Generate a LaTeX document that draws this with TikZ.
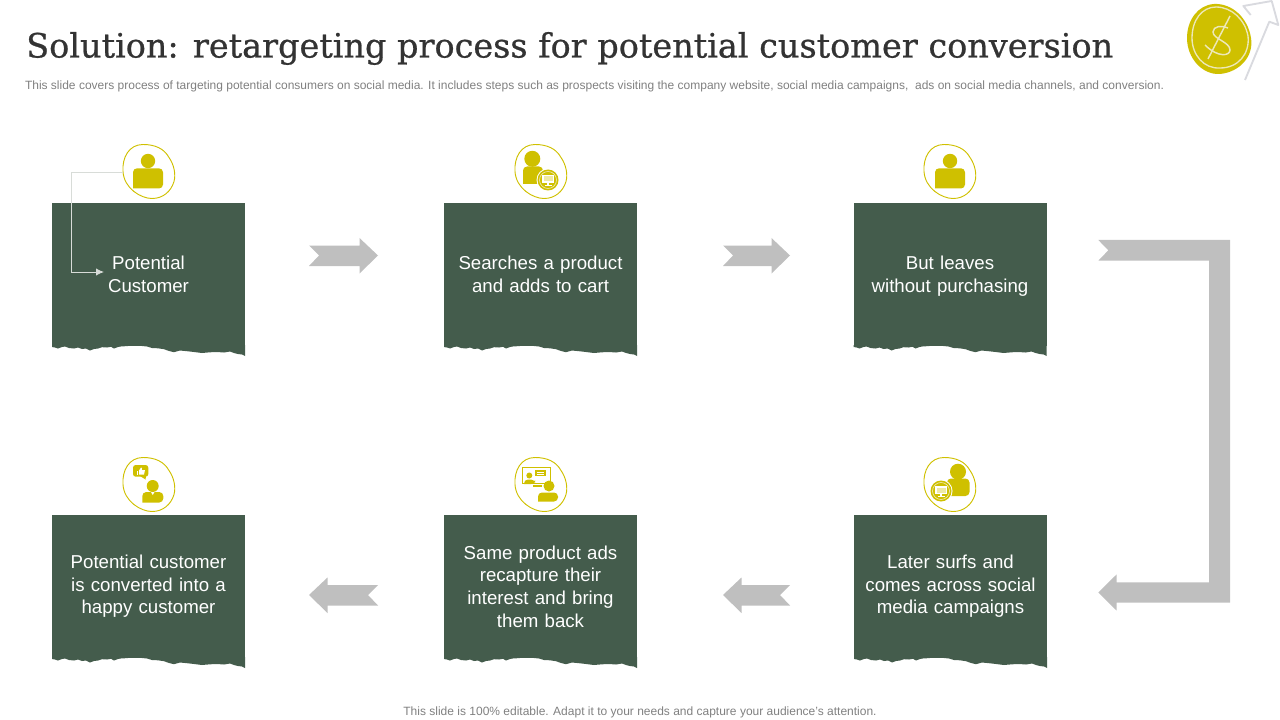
\documentclass[tikz,border=0pt]{standalone}
\usepackage{fontspec}
\usetikzlibrary{arrows.meta}
\setmainfont{Liberation Sans}
\newfontfamily\titlefont[RawFeature={embolden=0.7}]{DejaVu Serif}
\definecolor{boxgreen}{HTML}{445C4C}
\definecolor{iconyellow}{HTML}{CFC000}
\definecolor{arrowgray}{HTML}{BFBFBF}
\definecolor{smalltext}{HTML}{808080}
\definecolor{ringlight}{HTML}{EDE8B8}
\definecolor{logoarrow}{HTML}{D9DADF}
\definecolor{linkcolor}{HTML}{D8DCD8}
\tikzset{
  tornbox/.style={fill=boxgreen,text=white,minimum width=144.75pt,minimum height=107.25pt,inner sep=0pt,outer sep=0pt,align=center,text width=135pt,font=\fontsize{14}{17}\selectfont},
  blockarrow/.style={fill=arrowgray,draw=none},
  icon/.style={fill=iconyellow,draw=none},
  linkline/.style={draw=linkcolor,line width=0.7pt},
  bodysmall/.style={text=smalltext,inner sep=0pt,outer sep=0pt}
}
% torn lower edge of a box
\newcommand{\tornedge}[1]{\fill[boxgreen,shift={(#1.south west)}] (0,-1) -- (0,1) -- (3,1.5) -- (6,2.5) -- (10,1) -- (13,0.5) -- (17,2) -- (22,2.5) -- (26,1.5) -- (30,3) -- (34,2.5) -- (38,4.5) -- (42,3) -- (46,2.5) -- (50,1.2) -- (55,1.5) -- (59,0.8) -- (62,2.5) -- (66,1) -- (70,0.3) -- (75,0.2) -- (80,-1) -- (85,-0.3) -- (90,0) -- (95,0.5) -- (100,2) -- (106,2.3) -- (112,3.2) -- (117,5) -- (122,6.2) -- (128,4.5) -- (135,5.2) -- (142,6) -- (150,7) -- (158,6.3) -- (165,6) -- (172,6.5) -- (178,5.5) -- (182,7) -- (186,8) -- (190,8.5) -- (193,10) -- (193,-1) -- cycle;}
% icon outline
\newcommand{\blobline}[1]{\draw[draw=iconyellow,line width=0.7pt,shift={(#1)}] (-26,0) .. controls (-27,-14) and (-20,-27) .. (-6,-27) .. controls (6,-27) and (15,-23) .. (20,-14) .. controls (25,-7) and (27,3) .. (25,10) .. controls (22,20) and (14,27) .. (3,27) .. controls (-8,27) and (-25,17) .. (-26,0) -- cycle;}
% person body: left x, top y, right x, bottom y
\newcommand{\personbody}[4]{\fill[icon,rounded corners=3pt] (#1,#4) -- (#1,#2) -- (#3,#2) -- (#3,#4) [sharp corners] -- cycle;}
% monitor badge
\newcommand{\monitor}[2]{
  \begin{scope}[shift={(#1,#2)}]
  \fill[white] (0,0) circle (11.5);
  \fill[iconyellow] (0,0) circle (10.5);
  \draw[ringlight,line width=0.5pt] (0,0) circle (8.5);
  \fill[white] (-6,-5) rectangle (6,3);
  \fill[iconyellow!35] (-4.5,-3.5) rectangle (4.5,1.5);
  \fill[white] (-1,3) rectangle (1,5.5);
  \fill[white] (-3.5,5.2) rectangle (3.5,6.2);
  \end{scope}
}
% block arrow to the right / left
\newcommand{\rightblock}[3]{\fill[blockarrow] (#1,#3-10) -- (#2-18.5,#3-10) -- (#2-18.5,#3-17.5) -- (#2,#3) -- (#2-18.5,#3+18) -- (#2-18.5,#3+10.5) -- (#1,#3+10.5) -- (#1+10,#3) -- cycle;}
\newcommand{\leftblock}[3]{\fill[blockarrow] (#2,#3-10) -- (#1+18.5,#3-10) -- (#1+18.5,#3-17.5) -- (#1,#3) -- (#1+18.5,#3+18) -- (#1+18.5,#3+10.5) -- (#2,#3+10.5) -- (#2-10,#3) -- cycle;}
\begin{document}
\begin{tikzpicture}[x=0.75pt,y=-0.75pt]
\useasboundingbox (0,0) rectangle (1280,720);
% title
\node[anchor=west,inner sep=0pt,text=black!80] (title) at (26,48.5) {\titlefont\fontsize{25.1}{28}\selectfont Solution: retargeting process for potential customer conversion};
\node[anchor=west,bodysmall] (subtitle) at (25,86.5) {\fontsize{9}{11}\selectfont This slide covers process of targeting potential consumers on social media. It includes steps such as prospects visiting the company website, social media campaigns,\ \ ads on social media channels, and conversion.};
\node[bodysmall] (footer) at (640,712) {\fontsize{9}{11}\selectfont This slide is 100\% editable. Adapt it to your needs and capture your audience's attention.};
% logo
\draw[logoarrow,line width=1.4pt,line join=round] (1245,80) -- (1269.3,21.7) -- (1278.3,25) -- (1271.7,1) -- (1243.3,6) -- (1250.7,15);
\fill[iconyellow] (1187,38) .. controls (1187,20) and (1198,5) .. (1214,4) .. controls (1232,3) and (1248,18) .. (1251,38) .. controls (1254,56) and (1240,72) .. (1220,74) .. controls (1202,75) and (1187,58) .. (1187,38) -- cycle;
\draw[ringlight,line width=1pt] (1192,38) .. controls (1192,20) and (1202,7) .. (1216,7) .. controls (1232,7) and (1245,20) .. (1248,36) .. controls (1250,54) and (1238,68) .. (1220,68) .. controls (1204,69) and (1192,55) .. (1192,38) -- cycle;
\draw[ringlight,line width=1.1pt] (1228,28) .. controls (1222,25) and (1213,26) .. (1213,32) .. controls (1213,39) and (1230,42) .. (1230,50) .. controls (1230,56) and (1218,58) .. (1205,45);
\draw[ringlight,line width=1.1pt] (1230,16) -- (1208,59);
% boxes
\node[tornbox] (b1) at (148.5,274.5) {Potential\\Customer};
\node[tornbox] (b2) at (540.5,274.5) {Searches a product\\and adds to cart};
\node[tornbox] (b3) at (950,274.5) {But leaves\\\raisebox{0pt}[\height][0pt]{without purchasing}};
\node[tornbox] (b4) at (950.5,586.5) {Later surfs and\\comes across social\\media campaigns};
\node[tornbox] (b5) at (540.5,586.5) {Same product ads\\recapture their\\interest and bring\\them back};
\node[tornbox] (b6) at (148.5,586.5) {Potential customer\\is converted into a\\happy customer};
\tornedge{b1}\tornedge{b2}\tornedge{b3}\tornedge{b4}\tornedge{b5}\tornedge{b6}
% icon frames
\coordinate (c1) at (149,171.5);
\coordinate (c2) at (541,171.5);
\coordinate (c3) at (950,171.5);
\coordinate (c4) at (950,484.5);
\coordinate (c5) at (541,484.5);
\coordinate (c6) at (149,484.5);
\blobline{c1}\blobline{c2}\blobline{c3}\blobline{c4}\blobline{c5}\blobline{c6}
% icon 1 and 3
\fill[icon] (148,161) circle (7.2);
\personbody{133}{168.3}{163}{188.5}
\fill[icon] (950,161) circle (7.2);
\personbody{935}{168.3}{965}{188.5}
% icon 2
\fill[icon] (532.3,158.8) circle (8);
\personbody{523}{166.5}{543}{184}
\monitor{548}{180}
% icon 4 (lower right)
\fill[icon] (958,471.7) circle (8);
\personbody{947}{478.5}{969.5}{496}
\monitor{941}{491}
% icon 5
\draw[iconyellow,line width=0.6pt] (522,467) rectangle (550,483);
\fill[icon] (535,470) rectangle (546,476);
\fill[white] (537,471.5) rectangle (544,472.5);
\fill[white] (537,473.5) rectangle (544,474.5);
\fill[icon] (529.3,475.5) circle (3);
\personbody{524}{479.5}{535}{484}
\fill[icon] (533,485) rectangle (542,486.5);
\fill[icon] (549,486) circle (5.5);
\personbody{538}{492.5}{558}{501.5}
% icon 6
\fill[icon,rounded corners=2pt] (133,465) rectangle (148.3,476.7);
\fill[icon] (140,476) -- (146,476) -- (145.5,479.5) -- cycle;
\fill[white] (136.5,470.5) rectangle (138.3,474.5);
\fill[white] (139,474.5) -- (139,470.5) -- (141,467.5) -- (142,468) -- (141.8,470) -- (145,470) -- (144,474.5) -- cycle;
\fill[icon] (152.7,486) circle (6);
\personbody{142.3}{492}{163.3}{502.5}
\fill[white] (151,492) -- (154.5,492) -- (152.7,495) -- cycle;
% thin connector
\coordinate (linkstart) at (123,172);
\coordinate (linkcorner) at (71.5,272);
\coordinate (linkend) at (104,272);
\draw[linkline,-{Latex[length=6pt,width=5.5pt]}] (linkstart) -| (linkcorner) -- (linkend);
% block arrows
\rightblock{309}{378}{255.5}
\rightblock{723}{790}{255.5}
\leftblock{309}{378}{595}
\leftblock{723}{790}{595}
\fill[blockarrow] (1098.3,240) -- (1230,240) -- (1230,602.7) -- (1116.7,602.7) -- (1116.7,610.7) -- (1098.3,592.5) -- (1116.7,574.3) -- (1116.7,582.3) -- (1209,582.3) -- (1209,260.7) -- (1098.3,260.7) -- (1108.3,250.3) -- cycle;
\end{tikzpicture}
\end{document}
